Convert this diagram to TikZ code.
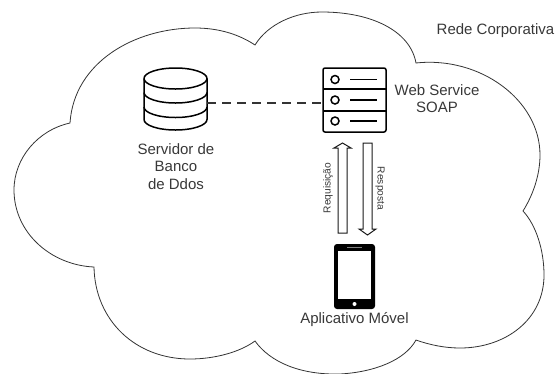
\documentclass[tikz,border=0pt]{standalone}
\usepackage{fontspec}
\setmainfont{Liberation Sans}
\definecolor{txt}{gray}{0.22}
\tikzset{
  cloudline/.style={draw=black!80,line width=0.8pt,line join=miter},
  label/.style={text=txt,font=\fontsize{15}{17.5}\selectfont,align=center,inner sep=0pt},
  small/.style={text=txt,font=\fontsize{10.2}{12}\selectfont,inner sep=0pt},
  icon/.style={draw=black,line width=1.5pt},
  anchorbox/.style={inner sep=0pt,outer sep=0pt},
  link/.style={draw=black!80,line width=1.1pt,dash pattern=on 9pt off 6pt},
  hollow/.style={draw=black!90,line width=1pt,fill=white,line join=miter},
}
\begin{document}
\begin{tikzpicture}[x=1pt,y=-1pt]
\useasboundingbox (0,0) rectangle (556,373);
% cloud
\path[cloudline] (70,123)
  .. controls (74,62) and (135,28) .. (195,28)
  .. controls (220,28) and (240,35) .. (255,45)
  .. controls (268,24) and (295,12) .. (322,12)
  .. controls (370,12) and (410,30) .. (416,63)
  .. controls (480,56) and (540,100) .. (540,155)
  .. controls (540,175) and (533,195) .. (523,211)
  .. controls (536,225) and (544,250) .. (544,275)
  .. controls (544,320) and (505,348) .. (460,348)
  .. controls (445,348) and (430,345) .. (416,340)
  .. controls (405,360) and (375,372) .. (340,374)
  .. controls (300,375) and (270,362) .. (255,341)
  .. controls (240,352) and (215,359) .. (190,359)
  .. controls (135,359) and (95,320) .. (94,267)
  .. controls (50,265) and (14,232) .. (14,190)
  .. controls (14,158) and (38,130) .. (70,123) -- cycle;
% database
\node[anchorbox,minimum width=63pt,minimum height=62pt] (db) at (175.5,99) {};
\draw[icon,fill=white] (144,78.5) arc[start angle=180,end angle=-180,x radius=31.5pt,y radius=10.5pt];
\draw[icon] (144,78.5) -- (144,119.5) arc[start angle=180,end angle=360,x radius=31.5pt,y radius=10.5pt] -- (207,78.5);
\draw[icon] (144,92.5) arc[start angle=180,end angle=360,x radius=31.5pt,y radius=10.5pt];
\draw[icon] (144,107) arc[start angle=180,end angle=360,x radius=31.5pt,y radius=10.5pt];
% server
\node[anchorbox,minimum width=63pt,minimum height=64pt] (server) at (354.5,100) {};
\draw[icon,rounded corners=2pt] (323,68) rectangle (386,132);
\draw[icon] (323,89) -- (386,89) (323,111) -- (386,111);
\foreach \ya in {79.5,100,121}{
  \draw[icon] (335,\ya) circle[radius=4pt];
  \draw[icon,line width=1.2pt] (350,\ya) -- (377,\ya);
}
% phone
\node[anchorbox,minimum width=41pt,minimum height=65pt] (phone) at (354.5,276.5) {};
\fill[black,rounded corners=3pt] (334,244) rectangle (375,309);
\fill[white] (338,251) rectangle (371,299);
\draw[gray,line width=1pt] (347,247.5) -- (362,247.5);
\fill[white] (354.5,304) circle[radius=2pt];
% connectors
\draw[link] ([yshift=-4pt]db.east) -- ([yshift=-3pt]server.west);
\coordinate (upfoot) at (342.5,233);
\coordinate (downtip) at (367.5,235);
\draw[hollow] (upfoot) ++(-4.5,0) -- ++(0,-85) -- ++(-4,0) -- ++(8.5,-5) -- ++(8.5,5) -- ++(-4,0) -- ++(0,85) -- cycle;
\draw[hollow] (downtip) -- ++(-8.5,-6) -- ++(4,0) -- ++(0,-86) -- ++(9,0) -- ++(0,86) -- ++(4,0) -- cycle;
% labels
\node[label] (corp) at (495.5,31) {Rede Corporativa};
\node[label] (bdtxt) at (176,166.5) {Servidor de\\Banco\\de Ddos};
\node[label] (wstxt) at (437,98.5) {Web Service\\SOAP};
\node[label] (apptxt) at (354.5,320) {Aplicativo Móvel};
\node[small,rotate=90] (req) at (328,188) {Requisição};
\node[small,rotate=-90] (resp) at (380,188.5) {Resposta};
\end{tikzpicture}
\end{document}
